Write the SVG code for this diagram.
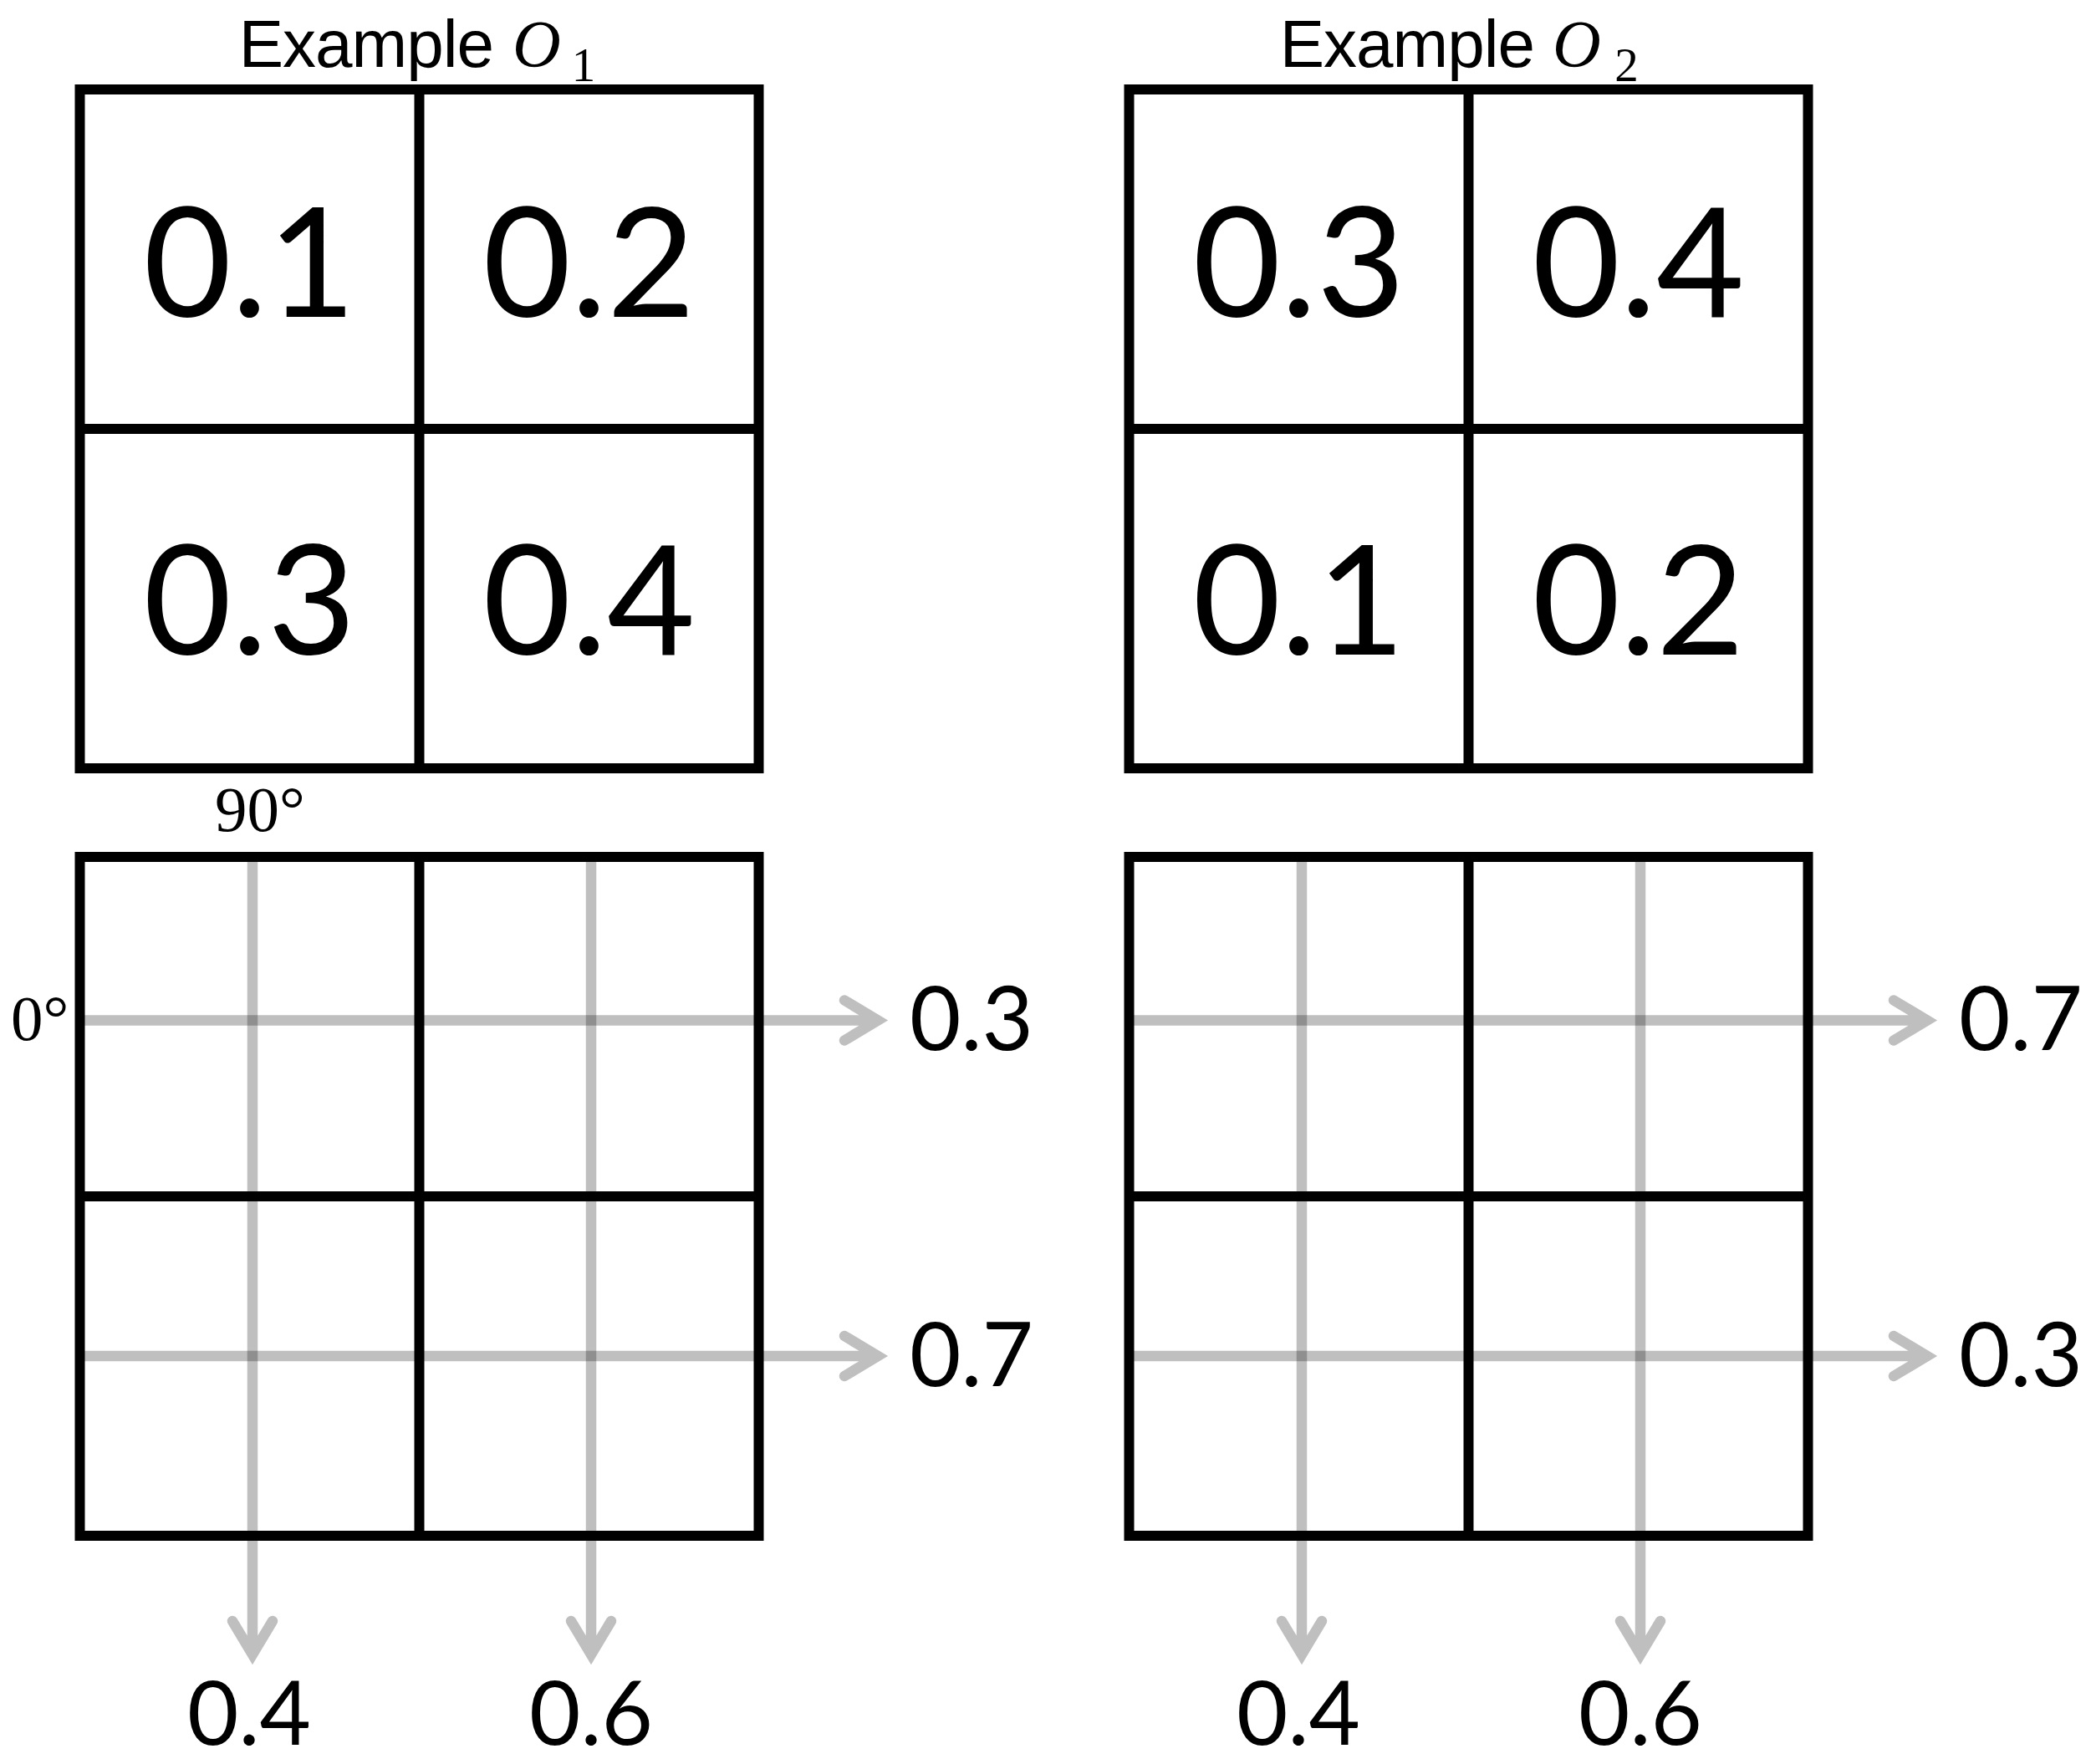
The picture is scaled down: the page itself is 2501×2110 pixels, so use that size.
<svg xmlns="http://www.w3.org/2000/svg" width="2501" height="2110" viewBox="0 0 2501 2110">
  <style>
    .frame { fill: none; stroke: #000; stroke-width: 12; stroke-linejoin: miter; }
    .line { fill: none; stroke: #000; stroke-width: 12; }
    .arrow { fill: none; stroke: #000; stroke-opacity: 0.25; stroke-width: 12.5; stroke-linecap: round; stroke-linejoin: miter; stroke-miterlimit: 4; }
    .big { font-family: Lato, "Open Sans", "Liberation Sans", sans-serif; font-size: 182px; fill: #000; text-anchor: middle; }
    .lab { font-family: Lato, "Open Sans", "Liberation Sans", sans-serif; font-size: 106px; fill: #000; }
    .labc { text-anchor: middle; }
    .title { font-family: "Liberation Sans", Arial, sans-serif; font-size: 80px; fill: #000; }
    .word { letter-spacing: -1px; }
    .mi { font-family: "Liberation Serif", "Times New Roman", serif; font-style: italic; font-size: 80px; }
    .sub { font-family: "Liberation Serif", "Times New Roman", serif; font-size: 57px; text-anchor: middle; }
    .deg { font-family: "Liberation Serif", "Times New Roman", serif; font-size: 77px; fill: #000; }
  </style>

  <g id="connectors">
    <!-- left bottom grid -->
    <path class="arrow" d="M97 1220.5 H1046 M1010 1196.5 L1050 1220.5 L1010 1244.5"/>
    <path class="arrow" d="M97 1622 H1046 M1010 1598 L1050 1622 L1010 1646"/>
    <path class="arrow" d="M302 1026 V1975 M278 1939 L302 1979 L326 1939"/>
    <path class="arrow" d="M707 1026 V1975 M683 1939 L707 1979 L731 1939"/>
    <!-- right bottom grid -->
    <path class="arrow" d="M1352 1220.5 H2301 M2265 1196.5 L2305 1220.5 L2265 1244.5"/>
    <path class="arrow" d="M1352 1622 H2301 M2265 1598 L2305 1622 L2265 1646"/>
    <path class="arrow" d="M1557 1026 V1975 M1533 1939 L1557 1979 L1581 1939"/>
    <path class="arrow" d="M1962 1026 V1975 M1938 1939 L1962 1979 L1986 1939"/>
  </g>

  <g id="grid-o1">
    <rect class="frame" x="95.5" y="107" width="812" height="812"/>
    <line class="line" x1="501.5" y1="107" x2="501.5" y2="919"/>
    <line class="line" x1="95.5" y1="513" x2="907.5" y2="513"/>
    <text class="big" x="298.5" y="379">0.1</text>
    <text class="big" x="704.5" y="379">0.2</text>
    <text class="big" x="298.5" y="783">0.3</text>
    <text class="big" x="704.5" y="783">0.4</text>
  </g>

  <g id="grid-o2">
    <rect class="frame" x="1350.5" y="107" width="812" height="812"/>
    <line class="line" x1="1756.5" y1="107" x2="1756.5" y2="919"/>
    <line class="line" x1="1350.5" y1="513" x2="2162.5" y2="513"/>
    <text class="big" x="1553.5" y="379">0.3</text>
    <text class="big" x="1959.5" y="379">0.4</text>
    <text class="big" x="1553.5" y="783">0.1</text>
    <text class="big" x="1959.5" y="783">0.2</text>
  </g>

  <g id="grid-o1-proj">
    <rect class="frame" x="95.5" y="1025" width="812" height="812"/>
    <line class="line" x1="501.5" y1="1025" x2="501.5" y2="1837"/>
    <line class="line" x1="95.5" y1="1431" x2="907.5" y2="1431"/>
  </g>

  <g id="grid-o2-proj">
    <rect class="frame" x="1350.5" y="1025" width="812" height="812"/>
    <line class="line" x1="1756.5" y1="1025" x2="1756.5" y2="1837"/>
    <line class="line" x1="1350.5" y1="1431" x2="2162.5" y2="1431"/>
  </g>

  <g id="title-o1">
    <text class="title"><tspan class="word" x="285.7" y="80">Example </tspan><tspan class="mi" x="613" y="80">O</tspan><tspan class="sub" x="698" y="96.5">1</tspan></text>
  </g>
  <g id="title-o2">
    <text class="title"><tspan class="word" x="1530.7" y="80">Example </tspan><tspan class="mi" x="1857" y="80">O</tspan><tspan class="sub" x="1945.5" y="96.5">2</tspan></text>
  </g>

  <g id="angle-labels">
    <text class="deg" x="257" y="994">90°</text>
    <text class="deg" x="13" y="1244">0°</text>
  </g>

  <g id="labels-o1">
    <text class="lab" x="1088" y="1256">0.3</text>
    <text class="lab" x="1088" y="1657.5">0.7</text>
    <text class="lab labc" x="298" y="2087">0.4</text>
    <text class="lab labc" x="707" y="2087">0.6</text>
  </g>

  <g id="labels-o2">
    <text class="lab" x="2343" y="1256">0.7</text>
    <text class="lab" x="2343" y="1657.5">0.3</text>
    <text class="lab labc" x="1553" y="2087">0.4</text>
    <text class="lab labc" x="1962" y="2087">0.6</text>
  </g>
</svg>
